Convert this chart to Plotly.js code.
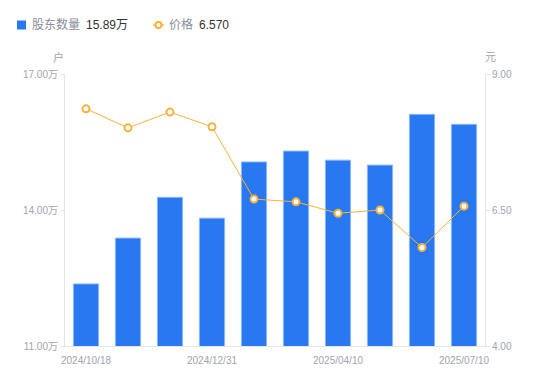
<!DOCTYPE html>
<html>
<head>
<meta charset="utf-8">
<script src="https://cdn.plot.ly/plotly-3.0.1.min.js"></script>
<style>html,body{margin:0;padding:0;background:#fff;}#chart{width:550px;height:381px;}</style>
</head>
<body>
<div id="chart"></div>
<script>
const dates = ["2024/10/18","2024/10/31","2024/11/29","2024/12/31","2025/01/20","2025/03/10","2025/04/10","2025/04/30","2025/06/10","2025/07/10"];
const holders = [12.37, 13.38, 14.28, 13.82, 15.06, 15.30, 15.10, 14.99, 16.11, 15.89];
const prices = [8.36, 8.01, 8.30, 8.03, 6.70, 6.65, 6.44, 6.50, 5.81, 6.570];
const xTickLabels = ["2024/10/18","2024/12/31","2025/04/10","2025/07/10"];
const yLeftTicks = [11, 14, 17];
const yLeftText = ["11.00万","14.00万","17.00万"];
const yRightTicks = [4, 6.5, 9];
const yRightText = ["4.00","6.50","9.00"];

const W = 550, H = 381;
const M = {l: 65, r: 65, t: 74, b: 35};
const pw = W - M.l - M.r, ph = H - M.t - M.b;
const px = x => (x - M.l) / pw;
const py = y => (H - M.b - y) / ph;

const FONT = "Liberation Sans, Arial, 'Noto Sans CJK SC', sans-serif";
const BLUE = "#2878F2", ORANGE = "#F8B13C", GRAY = "#A0A4AE";

const traces = [
  {
    type: "bar", x: dates, y: holders, name: "股东数量",
    marker: {color: BLUE, line: {color: "#8DB8FA", width: 1}},
    yaxis: "y", hoverinfo: "skip"
  },
  {
    type: "scatter", mode: "lines+markers", x: dates, y: prices, name: "价格",
    line: {color: ORANGE, width: 1},
    marker: {symbol: "circle", size: 7, color: "#fff", line: {color: ORANGE, width: 2}},
    yaxis: "y2", hoverinfo: "skip"
  }
];

const axisCommon = {
  showgrid: false, zeroline: false, showline: true, linecolor: "#E3E5EA", linewidth: 1,
  ticks: "outside", ticklen: 4, tickcolor: "#E3E5EA",
  tickfont: {family: FONT, size: 10, color: GRAY}
};

const layout = {
  width: W, height: H, margin: M,
  paper_bgcolor: "#fff", plot_bgcolor: "#fff",
  showlegend: false, bargap: 0.4,
  font: {family: FONT},
  xaxis: Object.assign({}, axisCommon, {
    type: "category", range: [-0.5, 9.5], ticks: "", ticklabelstandoff: 5,
    tickvals: xTickLabels, ticktext: xTickLabels
  }),
  yaxis: Object.assign({}, axisCommon, {
    range: [11, 17], tickvals: yLeftTicks, ticktext: yLeftText
  }),
  yaxis2: Object.assign({}, axisCommon, {
    range: [4, 9], tickvals: yRightTicks, ticktext: yRightText, overlaying: "y", side: "right"
  }),
  shapes: [
    {type: "rect", xref: "paper", yref: "paper", x0: px(17), x1: px(26), y0: py(29.5), y1: py(20.5),
     fillcolor: BLUE, line: {width: 0}},
    {type: "line", xref: "paper", yref: "paper", x0: px(153), x1: px(164), y0: py(25), y1: py(25),
     line: {color: ORANGE, width: 1.5}},
    {type: "circle", xref: "paper", yref: "paper", x0: px(155.5), x1: px(161.5), y0: py(28), y1: py(22),
     fillcolor: "#fff", line: {color: ORANGE, width: 2}}
  ],
  annotations: [
    {xref: "paper", yref: "paper", x: px(30), y: py(25), xanchor: "left", yanchor: "middle", showarrow: false,
     text: "股东数量", font: {family: FONT, size: 12, color: "#8A8E99"}},
    {xref: "paper", yref: "paper", x: px(84), y: py(25), xanchor: "left", yanchor: "middle", showarrow: false,
     text: "15.89万", font: {family: FONT, size: 12, color: "#333"}},
    {xref: "paper", yref: "paper", x: px(167), y: py(25), xanchor: "left", yanchor: "middle", showarrow: false,
     text: "价格", font: {family: FONT, size: 12, color: "#8A8E99"}},
    {xref: "paper", yref: "paper", x: px(197), y: py(25), xanchor: "left", yanchor: "middle", showarrow: false,
     text: "6.570", font: {family: FONT, size: 12, color: "#333"}},
    {xref: "paper", yref: "paper", x: px(58), y: py(57), xanchor: "center", yanchor: "middle", showarrow: false,
     text: "户", font: {family: FONT, size: 11, color: GRAY}},
    {xref: "paper", yref: "paper", x: px(490), y: py(57), xanchor: "center", yanchor: "middle", showarrow: false,
     text: "元", font: {family: FONT, size: 11, color: GRAY}}
  ]
};

Plotly.newPlot("chart", traces, layout, {staticPlot: true, displayModeBar: false});
</script>
</body>
</html>
